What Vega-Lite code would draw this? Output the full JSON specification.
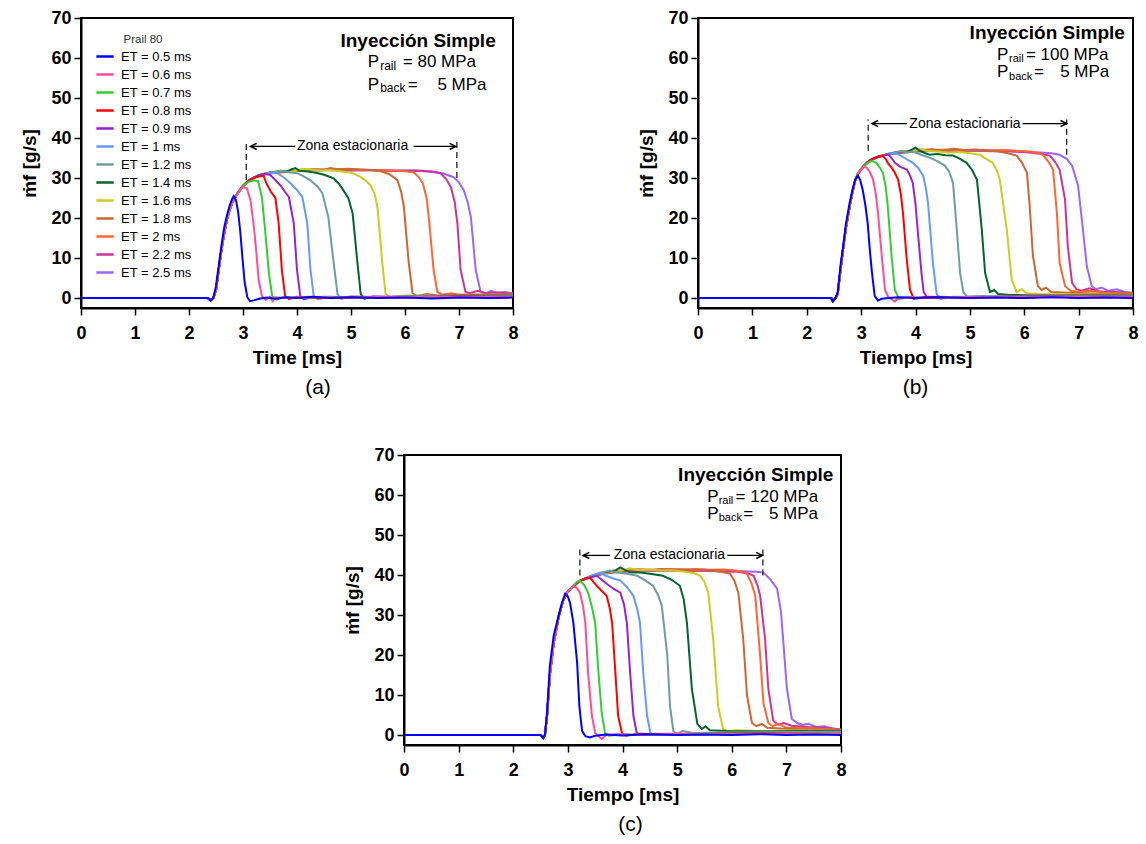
{
"$schema": "https://vega.github.io/schema/vega-lite/v6.json",
"background": "white",
"padding": {"left": 19, "top": 8, "right": 5, "bottom": 5},
"config": {
 "font": "Liberation Sans",
 "view": {"stroke": "black", "strokeWidth": 2},
 "axis": {"domainColor": "black", "domainWidth": 2, "tickColor": "black", "tickWidth": 1.5, "labelFont": "Liberation Sans", "labelFontSize": 18, "labelFontWeight": "bold", "labelColor": "black", "titleFont": "Liberation Sans", "titleFontSize": 19, "titleFontWeight": "bold", "titleColor": "black", "grid": false},
 "axisX": {"labelPadding": 9, "titlePadding": 6},
 "axisY": {"labelPadding": 3, "titlePadding": 11},
 "title": {"font": "Liberation Sans", "fontSize": 21, "fontWeight": "normal", "color": "black"},
 "text": {"font": "Liberation Sans", "color": "black"}
},
"datasets": {
"a": [
{"e":2.5,"t":0,"v":0},{"e":2.5,"t":2.35,"v":0},{"e":2.5,"t":2.4,"v":-0.6},{"e":2.5,"t":2.45,"v":0},{"e":2.5,"t":2.5,"v":2},{"e":2.5,"t":2.55,"v":7},{"e":2.5,"t":2.6,"v":12},{"e":2.5,"t":2.65,"v":16},{"e":2.5,"t":2.7,"v":19.5},{"e":2.5,"t":2.75,"v":22},{"e":2.5,"t":2.8,"v":23.8},{"e":2.5,"t":2.9,"v":26.2},{"e":2.5,"t":3.0,"v":28},{"e":2.5,"t":3.1,"v":29.2},{"e":2.5,"t":3.2,"v":30},{"e":2.5,"t":3.3,"v":30.6},{"e":2.5,"t":3.5,"v":31.2},{"e":2.5,"t":3.7,"v":31.4},{"e":2.5,"t":3.9,"v":31.6},{"e":2.5,"t":4.1,"v":31.8},{"e":2.5,"t":4.4,"v":31.9},{"e":2.5,"t":4.7,"v":32},{"e":2.5,"t":5.0,"v":31.8},{"e":2.5,"t":5.3,"v":32},{"e":2.5,"t":5.6,"v":31.9},{"e":2.5,"t":5.9,"v":31.8},{"e":2.5,"t":6.2,"v":31.9},{"e":2.5,"t":6.5,"v":31.5},{"e":2.5,"t":6.7,"v":31.2},{"e":2.5,"t":6.9,"v":30.2},{"e":2.5,"t":7.0,"v":28.9},{"e":2.5,"t":7.09,"v":26.9},{"e":2.5,"t":7.16,"v":24},{"e":2.5,"t":7.22,"v":20.2},{"e":2.5,"t":7.31,"v":7},{"e":2.5,"t":7.4,"v":1.5},{"e":2.5,"t":7.5,"v":1.2},{"e":2.5,"t":7.6,"v":1.8},{"e":2.5,"t":7.7,"v":1.3},{"e":2.5,"t":7.85,"v":1.5},{"e":2.5,"t":8,"v":1.2},
{"e":2.2,"t":0,"v":0},{"e":2.2,"t":2.35,"v":0},{"e":2.2,"t":2.4,"v":-0.6},{"e":2.2,"t":2.45,"v":0},{"e":2.2,"t":2.5,"v":2},{"e":2.2,"t":2.55,"v":7},{"e":2.2,"t":2.6,"v":12},{"e":2.2,"t":2.65,"v":16},{"e":2.2,"t":2.7,"v":19.5},{"e":2.2,"t":2.75,"v":22},{"e":2.2,"t":2.8,"v":23.8},{"e":2.2,"t":2.9,"v":26.2},{"e":2.2,"t":3.0,"v":28},{"e":2.2,"t":3.1,"v":29.2},{"e":2.2,"t":3.2,"v":30},{"e":2.2,"t":3.3,"v":30.6},{"e":2.2,"t":3.5,"v":31.3},{"e":2.2,"t":3.7,"v":31.5},{"e":2.2,"t":3.9,"v":31.7},{"e":2.2,"t":4.1,"v":31.9},{"e":2.2,"t":4.35,"v":32},{"e":2.2,"t":4.6,"v":32.1},{"e":2.2,"t":4.85,"v":31.9},{"e":2.2,"t":5.1,"v":32.1},{"e":2.2,"t":5.4,"v":32},{"e":2.2,"t":5.7,"v":31.8},{"e":2.2,"t":6.0,"v":31.9},{"e":2.2,"t":6.3,"v":31.8},{"e":2.2,"t":6.5,"v":31.6},{"e":2.2,"t":6.66,"v":31.2},{"e":2.2,"t":6.76,"v":29.8},{"e":2.2,"t":6.85,"v":27.7},{"e":2.2,"t":6.92,"v":24},{"e":2.2,"t":6.97,"v":18.7},{"e":2.2,"t":7.03,"v":7},{"e":2.2,"t":7.12,"v":1.5},{"e":2.2,"t":7.2,"v":1.2},{"e":2.2,"t":7.35,"v":1.8},{"e":2.2,"t":7.5,"v":1.2},{"e":2.2,"t":7.7,"v":1.4},{"e":2.2,"t":8,"v":1},
{"e":2,"t":0,"v":0},{"e":2,"t":2.35,"v":0},{"e":2,"t":2.4,"v":-0.6},{"e":2,"t":2.45,"v":0},{"e":2,"t":2.5,"v":2},{"e":2,"t":2.55,"v":7},{"e":2,"t":2.6,"v":12},{"e":2,"t":2.65,"v":16},{"e":2,"t":2.7,"v":19.5},{"e":2,"t":2.75,"v":22},{"e":2,"t":2.8,"v":23.8},{"e":2,"t":2.9,"v":26.2},{"e":2,"t":3.0,"v":28},{"e":2,"t":3.1,"v":29.3},{"e":2,"t":3.2,"v":30.1},{"e":2,"t":3.3,"v":30.7},{"e":2,"t":3.5,"v":31.3},{"e":2,"t":3.7,"v":31.5},{"e":2,"t":3.9,"v":31.8},{"e":2,"t":4.1,"v":31.9},{"e":2,"t":4.3,"v":32.1},{"e":2,"t":4.55,"v":32},{"e":2,"t":4.8,"v":32.2},{"e":2,"t":5.0,"v":32.1},{"e":2,"t":5.2,"v":31.9},{"e":2,"t":5.45,"v":32},{"e":2,"t":5.7,"v":31.9},{"e":2,"t":5.9,"v":31.8},{"e":2,"t":6.05,"v":31.6},{"e":2,"t":6.16,"v":31.4},{"e":2,"t":6.25,"v":30.3},{"e":2,"t":6.33,"v":28.7},{"e":2,"t":6.4,"v":25},{"e":2,"t":6.44,"v":20.2},{"e":2,"t":6.53,"v":7},{"e":2,"t":6.6,"v":1.5},{"e":2,"t":6.7,"v":0.8},{"e":2,"t":6.85,"v":1.2},{"e":2,"t":7.0,"v":0.8},{"e":2,"t":7.4,"v":0.9},{"e":2,"t":8,"v":0.8},
{"e":1.8,"t":0,"v":0},{"e":1.8,"t":2.35,"v":0},{"e":1.8,"t":2.4,"v":-0.6},{"e":1.8,"t":2.45,"v":0},{"e":1.8,"t":2.5,"v":2},{"e":1.8,"t":2.55,"v":7},{"e":1.8,"t":2.6,"v":12},{"e":1.8,"t":2.65,"v":16},{"e":1.8,"t":2.7,"v":19.5},{"e":1.8,"t":2.75,"v":22},{"e":1.8,"t":2.8,"v":23.8},{"e":1.8,"t":2.9,"v":26.2},{"e":1.8,"t":3.0,"v":28},{"e":1.8,"t":3.1,"v":29.3},{"e":1.8,"t":3.2,"v":30.1},{"e":1.8,"t":3.3,"v":30.7},{"e":1.8,"t":3.5,"v":31.4},{"e":1.8,"t":3.7,"v":31.7},{"e":1.8,"t":3.9,"v":31.8},{"e":1.8,"t":4.1,"v":32},{"e":1.8,"t":4.3,"v":32.2},{"e":1.8,"t":4.5,"v":32.1},{"e":1.8,"t":4.62,"v":32.5},{"e":1.8,"t":4.75,"v":32.2},{"e":1.8,"t":4.95,"v":32.3},{"e":1.8,"t":5.15,"v":32.1},{"e":1.8,"t":5.35,"v":32},{"e":1.8,"t":5.55,"v":31.7},{"e":1.8,"t":5.7,"v":31},{"e":1.8,"t":5.8,"v":30.1},{"e":1.8,"t":5.86,"v":29.4},{"e":1.8,"t":5.93,"v":26.5},{"e":1.8,"t":5.98,"v":22.7},{"e":1.8,"t":6.07,"v":8.7},{"e":1.8,"t":6.14,"v":1.2},{"e":1.8,"t":6.22,"v":0.5},{"e":1.8,"t":6.4,"v":1},{"e":1.8,"t":6.6,"v":0.6},{"e":1.8,"t":7,"v":0.8},{"e":1.8,"t":7.5,"v":0.7},{"e":1.8,"t":8,"v":0.9},
{"e":1.6,"t":0,"v":0},{"e":1.6,"t":2.35,"v":0},{"e":1.6,"t":2.4,"v":-0.6},{"e":1.6,"t":2.45,"v":0},{"e":1.6,"t":2.5,"v":2},{"e":1.6,"t":2.55,"v":7},{"e":1.6,"t":2.6,"v":12},{"e":1.6,"t":2.65,"v":16},{"e":1.6,"t":2.7,"v":19.5},{"e":1.6,"t":2.75,"v":22},{"e":1.6,"t":2.8,"v":23.8},{"e":1.6,"t":2.9,"v":26.2},{"e":1.6,"t":3.0,"v":28},{"e":1.6,"t":3.1,"v":29.3},{"e":1.6,"t":3.2,"v":30.1},{"e":1.6,"t":3.3,"v":30.7},{"e":1.6,"t":3.5,"v":31.3},{"e":1.6,"t":3.6,"v":31.6},{"e":1.6,"t":3.75,"v":31.8},{"e":1.6,"t":3.9,"v":31.5},{"e":1.6,"t":4.0,"v":31.9},{"e":1.6,"t":4.1,"v":32.3},{"e":1.6,"t":4.25,"v":32.1},{"e":1.6,"t":4.4,"v":31.9},{"e":1.6,"t":4.6,"v":32},{"e":1.6,"t":4.8,"v":31.7},{"e":1.6,"t":5.0,"v":31.3},{"e":1.6,"t":5.1,"v":30.8},{"e":1.6,"t":5.18,"v":30.2},{"e":1.6,"t":5.28,"v":29.3},{"e":1.6,"t":5.36,"v":28.2},{"e":1.6,"t":5.44,"v":26},{"e":1.6,"t":5.49,"v":22.7},{"e":1.6,"t":5.58,"v":8.7},{"e":1.6,"t":5.64,"v":1},{"e":1.6,"t":5.72,"v":0.2},{"e":1.6,"t":6.0,"v":0.6},{"e":1.6,"t":6.6,"v":0.5},{"e":1.6,"t":7.4,"v":0.7},{"e":1.6,"t":8,"v":0.7},
{"e":1.4,"t":0,"v":0},{"e":1.4,"t":2.35,"v":0},{"e":1.4,"t":2.4,"v":-0.6},{"e":1.4,"t":2.45,"v":0},{"e":1.4,"t":2.5,"v":2},{"e":1.4,"t":2.55,"v":7},{"e":1.4,"t":2.6,"v":12},{"e":1.4,"t":2.65,"v":16},{"e":1.4,"t":2.7,"v":19.5},{"e":1.4,"t":2.75,"v":22},{"e":1.4,"t":2.8,"v":23.8},{"e":1.4,"t":2.9,"v":26.2},{"e":1.4,"t":3.0,"v":28},{"e":1.4,"t":3.1,"v":29.3},{"e":1.4,"t":3.2,"v":30.1},{"e":1.4,"t":3.3,"v":30.7},{"e":1.4,"t":3.5,"v":31.4},{"e":1.4,"t":3.6,"v":31.5},{"e":1.4,"t":3.7,"v":31.8},{"e":1.4,"t":3.8,"v":31.6},{"e":1.4,"t":3.9,"v":32.2},{"e":1.4,"t":3.97,"v":32.5},{"e":1.4,"t":4.05,"v":31.8},{"e":1.4,"t":4.2,"v":31.6},{"e":1.4,"t":4.35,"v":31.3},{"e":1.4,"t":4.5,"v":30.8},{"e":1.4,"t":4.6,"v":30.3},{"e":1.4,"t":4.68,"v":29.9},{"e":1.4,"t":4.78,"v":28.5},{"e":1.4,"t":4.86,"v":26.9},{"e":1.4,"t":4.95,"v":25},{"e":1.4,"t":5.03,"v":21.2},{"e":1.4,"t":5.12,"v":8.7},{"e":1.4,"t":5.18,"v":1},{"e":1.4,"t":5.25,"v":-0.2},{"e":1.4,"t":5.4,"v":0.4},{"e":1.4,"t":5.8,"v":0.2},{"e":1.4,"t":6.5,"v":0.5},{"e":1.4,"t":7.3,"v":0.6},{"e":1.4,"t":8,"v":0.6},
{"e":1.2,"t":0,"v":0},{"e":1.2,"t":2.35,"v":0},{"e":1.2,"t":2.4,"v":-0.6},{"e":1.2,"t":2.45,"v":0},{"e":1.2,"t":2.5,"v":2},{"e":1.2,"t":2.55,"v":7},{"e":1.2,"t":2.6,"v":12},{"e":1.2,"t":2.65,"v":16},{"e":1.2,"t":2.7,"v":19.5},{"e":1.2,"t":2.75,"v":22},{"e":1.2,"t":2.8,"v":23.8},{"e":1.2,"t":2.9,"v":26.2},{"e":1.2,"t":3.0,"v":28},{"e":1.2,"t":3.1,"v":29.3},{"e":1.2,"t":3.2,"v":30.1},{"e":1.2,"t":3.3,"v":30.7},{"e":1.2,"t":3.4,"v":31.1},{"e":1.2,"t":3.5,"v":31.3},{"e":1.2,"t":3.6,"v":31.5},{"e":1.2,"t":3.7,"v":31.8},{"e":1.2,"t":3.88,"v":31.4},{"e":1.2,"t":4.0,"v":31.2},{"e":1.2,"t":4.1,"v":30.6},{"e":1.2,"t":4.25,"v":29.4},{"e":1.2,"t":4.37,"v":28},{"e":1.2,"t":4.47,"v":26.2},{"e":1.2,"t":4.58,"v":20.2},{"e":1.2,"t":4.68,"v":8.7},{"e":1.2,"t":4.75,"v":1},{"e":1.2,"t":4.82,"v":-0.2},{"e":1.2,"t":5.0,"v":0.4},{"e":1.2,"t":5.5,"v":0.2},{"e":1.2,"t":6.3,"v":0.5},{"e":1.2,"t":7.2,"v":0.5},{"e":1.2,"t":8,"v":0.6},
{"e":1,"t":0,"v":0},{"e":1,"t":2.35,"v":0},{"e":1,"t":2.4,"v":-0.6},{"e":1,"t":2.45,"v":0},{"e":1,"t":2.5,"v":2},{"e":1,"t":2.55,"v":7},{"e":1,"t":2.6,"v":12},{"e":1,"t":2.65,"v":16},{"e":1,"t":2.7,"v":19.5},{"e":1,"t":2.75,"v":22},{"e":1,"t":2.8,"v":23.8},{"e":1,"t":2.9,"v":26.2},{"e":1,"t":3.0,"v":28},{"e":1,"t":3.1,"v":29.3},{"e":1,"t":3.2,"v":30.1},{"e":1,"t":3.3,"v":30.7},{"e":1,"t":3.4,"v":31},{"e":1,"t":3.5,"v":31.2},{"e":1,"t":3.63,"v":31.3},{"e":1,"t":3.75,"v":30.2},{"e":1,"t":3.88,"v":28.7},{"e":1,"t":4.0,"v":27},{"e":1,"t":4.1,"v":25.2},{"e":1,"t":4.19,"v":18.7},{"e":1,"t":4.25,"v":7},{"e":1,"t":4.31,"v":0.5},{"e":1,"t":4.38,"v":-0.3},{"e":1,"t":4.6,"v":0.3},{"e":1,"t":5.2,"v":0.1},{"e":1,"t":6,"v":0.3},{"e":1,"t":7,"v":0.4},{"e":1,"t":8,"v":0.5},
{"e":0.9,"t":0,"v":0},{"e":0.9,"t":2.35,"v":0},{"e":0.9,"t":2.4,"v":-0.6},{"e":0.9,"t":2.45,"v":0},{"e":0.9,"t":2.5,"v":2},{"e":0.9,"t":2.55,"v":7},{"e":0.9,"t":2.6,"v":12},{"e":0.9,"t":2.65,"v":16},{"e":0.9,"t":2.7,"v":19.5},{"e":0.9,"t":2.75,"v":22},{"e":0.9,"t":2.8,"v":23.8},{"e":0.9,"t":2.9,"v":26.2},{"e":0.9,"t":3.0,"v":28},{"e":0.9,"t":3.1,"v":29.3},{"e":0.9,"t":3.2,"v":30.1},{"e":0.9,"t":3.3,"v":30.7},{"e":0.9,"t":3.4,"v":31},{"e":0.9,"t":3.5,"v":30.8},{"e":0.9,"t":3.6,"v":29.5},{"e":0.9,"t":3.69,"v":28.2},{"e":0.9,"t":3.78,"v":26.5},{"e":0.9,"t":3.85,"v":25.2},{"e":0.9,"t":3.94,"v":18.7},{"e":0.9,"t":4.0,"v":7},{"e":0.9,"t":4.06,"v":0.5},{"e":0.9,"t":4.12,"v":-0.3},{"e":0.9,"t":4.3,"v":0.2},{"e":0.9,"t":4.8,"v":0},{"e":0.9,"t":5.5,"v":0.3},{"e":0.9,"t":6.5,"v":0.3},{"e":0.9,"t":7.5,"v":0.4},{"e":0.9,"t":8,"v":0.5},
{"e":0.8,"t":0,"v":0},{"e":0.8,"t":2.35,"v":0},{"e":0.8,"t":2.4,"v":-0.6},{"e":0.8,"t":2.45,"v":0},{"e":0.8,"t":2.5,"v":2},{"e":0.8,"t":2.55,"v":7},{"e":0.8,"t":2.6,"v":12},{"e":0.8,"t":2.65,"v":16},{"e":0.8,"t":2.7,"v":19.5},{"e":0.8,"t":2.75,"v":22},{"e":0.8,"t":2.8,"v":23.8},{"e":0.8,"t":2.9,"v":26.2},{"e":0.8,"t":3.0,"v":28},{"e":0.8,"t":3.1,"v":29.3},{"e":0.8,"t":3.2,"v":30},{"e":0.8,"t":3.3,"v":30.4},{"e":0.8,"t":3.38,"v":30.6},{"e":0.8,"t":3.44,"v":28.5},{"e":0.8,"t":3.52,"v":26.5},{"e":0.8,"t":3.6,"v":25},{"e":0.8,"t":3.66,"v":18.7},{"e":0.8,"t":3.72,"v":7},{"e":0.8,"t":3.78,"v":0.5},{"e":0.8,"t":3.85,"v":-0.3},{"e":0.8,"t":4.0,"v":0.3},{"e":0.8,"t":4.4,"v":0},{"e":0.8,"t":5,"v":0.3},{"e":0.8,"t":6,"v":0.2},{"e":0.8,"t":7,"v":0.4},{"e":0.8,"t":8,"v":0.4},
{"e":0.7,"t":0,"v":0},{"e":0.7,"t":2.35,"v":0},{"e":0.7,"t":2.4,"v":-0.6},{"e":0.7,"t":2.45,"v":0},{"e":0.7,"t":2.5,"v":2},{"e":0.7,"t":2.55,"v":7},{"e":0.7,"t":2.6,"v":12},{"e":0.7,"t":2.65,"v":16},{"e":0.7,"t":2.7,"v":19.5},{"e":0.7,"t":2.75,"v":22},{"e":0.7,"t":2.8,"v":23.8},{"e":0.7,"t":2.9,"v":26.2},{"e":0.7,"t":3.0,"v":28},{"e":0.7,"t":3.1,"v":29},{"e":0.7,"t":3.2,"v":29.4},{"e":0.7,"t":3.28,"v":29.2},{"e":0.7,"t":3.35,"v":25.2},{"e":0.7,"t":3.41,"v":17},{"e":0.7,"t":3.48,"v":6.2},{"e":0.7,"t":3.54,"v":0.5},{"e":0.7,"t":3.62,"v":-0.4},{"e":0.7,"t":3.75,"v":0.2},{"e":0.7,"t":4.0,"v":0},{"e":0.7,"t":4.5,"v":0.3},{"e":0.7,"t":5.2,"v":0.1},{"e":0.7,"t":6,"v":0.3},{"e":0.7,"t":7,"v":0.2},{"e":0.7,"t":8,"v":0.4},
{"e":0.6,"t":0,"v":0},{"e":0.6,"t":2.35,"v":0},{"e":0.6,"t":2.4,"v":-0.6},{"e":0.6,"t":2.45,"v":0},{"e":0.6,"t":2.5,"v":2},{"e":0.6,"t":2.55,"v":7},{"e":0.6,"t":2.6,"v":12},{"e":0.6,"t":2.65,"v":16},{"e":0.6,"t":2.7,"v":19.5},{"e":0.6,"t":2.75,"v":22},{"e":0.6,"t":2.8,"v":23.8},{"e":0.6,"t":2.9,"v":26.2},{"e":0.6,"t":3.0,"v":27.7},{"e":0.6,"t":3.07,"v":27.5},{"e":0.6,"t":3.14,"v":24.4},{"e":0.6,"t":3.2,"v":18},{"e":0.6,"t":3.25,"v":11},{"e":0.6,"t":3.29,"v":4.5},{"e":0.6,"t":3.35,"v":0.5},{"e":0.6,"t":3.42,"v":-0.5},{"e":0.6,"t":3.5,"v":0.3},{"e":0.6,"t":3.55,"v":-0.8},{"e":0.6,"t":3.6,"v":0.2},{"e":0.6,"t":3.8,"v":0},{"e":0.6,"t":4.2,"v":0.3},{"e":0.6,"t":4.8,"v":0.1},{"e":0.6,"t":5.5,"v":0.3},{"e":0.6,"t":6.5,"v":0.2},{"e":0.6,"t":7.5,"v":0.3},{"e":0.6,"t":8,"v":0.4},
{"e":0.5,"t":0,"v":0},{"e":0.5,"t":2.35,"v":0},{"e":0.5,"t":2.4,"v":-0.6},{"e":0.5,"t":2.45,"v":0},{"e":0.5,"t":2.5,"v":3},{"e":0.5,"t":2.55,"v":8},{"e":0.5,"t":2.6,"v":13},{"e":0.5,"t":2.65,"v":17.5},{"e":0.5,"t":2.7,"v":20.5},{"e":0.5,"t":2.75,"v":23},{"e":0.5,"t":2.8,"v":24.8},{"e":0.5,"t":2.83,"v":25.5},{"e":0.5,"t":2.87,"v":24.5},{"e":0.5,"t":2.91,"v":21.5},{"e":0.5,"t":2.95,"v":16.5},{"e":0.5,"t":2.99,"v":10},{"e":0.5,"t":3.03,"v":4},{"e":0.5,"t":3.08,"v":0.2},{"e":0.5,"t":3.13,"v":-0.8},{"e":0.5,"t":3.2,"v":-0.6},{"e":0.5,"t":3.3,"v":-0.2},{"e":0.5,"t":3.45,"v":0.1},{"e":0.5,"t":3.6,"v":-0.2},{"e":0.5,"t":3.8,"v":0.2},{"e":0.5,"t":4.0,"v":0},{"e":0.5,"t":4.3,"v":0.3},{"e":0.5,"t":4.6,"v":0},{"e":0.5,"t":5.0,"v":0.2},{"e":0.5,"t":5.5,"v":0},{"e":0.5,"t":6.0,"v":0.1},{"e":0.5,"t":6.5,"v":-0.1},{"e":0.5,"t":7.0,"v":0.1},{"e":0.5,"t":7.5,"v":0},{"e":0.5,"t":8,"v":0.1}
],
"b": [
{"e":2.5,"t":0,"v":0},{"e":2.5,"t":2.45,"v":0},{"e":2.5,"t":2.48,"v":-0.8},{"e":2.5,"t":2.53,"v":0},{"e":2.5,"t":2.57,"v":1},{"e":2.5,"t":2.62,"v":7},{"e":2.5,"t":2.67,"v":12.5},{"e":2.5,"t":2.72,"v":17.5},{"e":2.5,"t":2.79,"v":23},{"e":2.5,"t":2.84,"v":26.5},{"e":2.5,"t":2.89,"v":29.3},{"e":2.5,"t":2.94,"v":31},{"e":2.5,"t":3.0,"v":32.2},{"e":2.5,"t":3.05,"v":33},{"e":2.5,"t":3.12,"v":33.9},{"e":2.5,"t":3.2,"v":34.6},{"e":2.5,"t":3.3,"v":35.2},{"e":2.5,"t":3.5,"v":35.9},{"e":2.5,"t":3.7,"v":36.2},{"e":2.5,"t":3.9,"v":36.5},{"e":2.5,"t":4.2,"v":36.7},{"e":2.5,"t":4.5,"v":36.8},{"e":2.5,"t":4.8,"v":36.7},{"e":2.5,"t":5.1,"v":36.8},{"e":2.5,"t":5.4,"v":36.7},{"e":2.5,"t":5.7,"v":36.6},{"e":2.5,"t":6.0,"v":36.5},{"e":2.5,"t":6.3,"v":36.4},{"e":2.5,"t":6.5,"v":36.2},{"e":2.5,"t":6.65,"v":35.8},{"e":2.5,"t":6.78,"v":34.8},{"e":2.5,"t":6.88,"v":33.1},{"e":2.5,"t":6.99,"v":28.1},{"e":2.5,"t":7.08,"v":17},{"e":2.5,"t":7.15,"v":8},{"e":2.5,"t":7.24,"v":3},{"e":2.5,"t":7.32,"v":2.2},{"e":2.5,"t":7.42,"v":2.6},{"e":2.5,"t":7.55,"v":1.8},{"e":2.5,"t":7.7,"v":2.2},{"e":2.5,"t":7.85,"v":1.5},{"e":2.5,"t":8,"v":1.3},
{"e":2.2,"t":0,"v":0},{"e":2.2,"t":2.45,"v":0},{"e":2.2,"t":2.48,"v":-0.8},{"e":2.2,"t":2.53,"v":0},{"e":2.2,"t":2.57,"v":1},{"e":2.2,"t":2.62,"v":7},{"e":2.2,"t":2.67,"v":12.5},{"e":2.2,"t":2.72,"v":17.5},{"e":2.2,"t":2.79,"v":23},{"e":2.2,"t":2.84,"v":26.5},{"e":2.2,"t":2.89,"v":29.3},{"e":2.2,"t":2.94,"v":31},{"e":2.2,"t":3.0,"v":32.2},{"e":2.2,"t":3.05,"v":33},{"e":2.2,"t":3.12,"v":33.9},{"e":2.2,"t":3.2,"v":34.6},{"e":2.2,"t":3.3,"v":35.2},{"e":2.2,"t":3.5,"v":36},{"e":2.2,"t":3.7,"v":36.3},{"e":2.2,"t":3.9,"v":36.6},{"e":2.2,"t":4.15,"v":36.8},{"e":2.2,"t":4.4,"v":37},{"e":2.2,"t":4.65,"v":36.9},{"e":2.2,"t":4.9,"v":37},{"e":2.2,"t":5.2,"v":36.9},{"e":2.2,"t":5.5,"v":36.8},{"e":2.2,"t":5.8,"v":36.7},{"e":2.2,"t":6.1,"v":36.4},{"e":2.2,"t":6.3,"v":36},{"e":2.2,"t":6.47,"v":35.6},{"e":2.2,"t":6.57,"v":34},{"e":2.2,"t":6.65,"v":32.1},{"e":2.2,"t":6.75,"v":24.6},{"e":2.2,"t":6.8,"v":13},{"e":2.2,"t":6.88,"v":3.8},{"e":2.2,"t":6.96,"v":2.2},{"e":2.2,"t":7.05,"v":1.8},{"e":2.2,"t":7.2,"v":2.4},{"e":2.2,"t":7.4,"v":1.6},{"e":2.2,"t":7.7,"v":1.5},{"e":2.2,"t":8,"v":1.2},
{"e":2,"t":0,"v":0},{"e":2,"t":2.45,"v":0},{"e":2,"t":2.48,"v":-0.8},{"e":2,"t":2.53,"v":0},{"e":2,"t":2.57,"v":1},{"e":2,"t":2.62,"v":7},{"e":2,"t":2.67,"v":12.5},{"e":2,"t":2.72,"v":17.5},{"e":2,"t":2.79,"v":23},{"e":2,"t":2.84,"v":26.5},{"e":2,"t":2.89,"v":29.3},{"e":2,"t":2.94,"v":31},{"e":2,"t":3.0,"v":32.2},{"e":2,"t":3.05,"v":33},{"e":2,"t":3.12,"v":33.9},{"e":2,"t":3.2,"v":34.6},{"e":2,"t":3.3,"v":35.2},{"e":2,"t":3.5,"v":36},{"e":2,"t":3.7,"v":36.4},{"e":2,"t":3.9,"v":36.7},{"e":2,"t":4.1,"v":36.9},{"e":2,"t":4.35,"v":37},{"e":2,"t":4.6,"v":37.1},{"e":2,"t":4.85,"v":36.9},{"e":2,"t":5.1,"v":37},{"e":2,"t":5.35,"v":36.9},{"e":2,"t":5.6,"v":37},{"e":2,"t":5.85,"v":36.8},{"e":2,"t":6.1,"v":36.6},{"e":2,"t":6.25,"v":36.3},{"e":2,"t":6.34,"v":35.8},{"e":2,"t":6.45,"v":34},{"e":2,"t":6.53,"v":32.1},{"e":2,"t":6.6,"v":21.3},{"e":2,"t":6.65,"v":8.8},{"e":2,"t":6.75,"v":3},{"e":2,"t":6.85,"v":1.8},{"e":2,"t":7.0,"v":1.5},{"e":2,"t":7.2,"v":1.8},{"e":2,"t":7.5,"v":1.3},{"e":2,"t":8,"v":1.1},
{"e":1.8,"t":0,"v":0},{"e":1.8,"t":2.45,"v":0},{"e":1.8,"t":2.48,"v":-0.8},{"e":1.8,"t":2.53,"v":0},{"e":1.8,"t":2.57,"v":1},{"e":1.8,"t":2.62,"v":7},{"e":1.8,"t":2.67,"v":12.5},{"e":1.8,"t":2.72,"v":17.5},{"e":1.8,"t":2.79,"v":23},{"e":1.8,"t":2.84,"v":26.5},{"e":1.8,"t":2.89,"v":29.3},{"e":1.8,"t":2.94,"v":31},{"e":1.8,"t":3.0,"v":32.2},{"e":1.8,"t":3.05,"v":33},{"e":1.8,"t":3.12,"v":33.9},{"e":1.8,"t":3.2,"v":34.6},{"e":1.8,"t":3.3,"v":35.2},{"e":1.8,"t":3.5,"v":36},{"e":1.8,"t":3.7,"v":36.5},{"e":1.8,"t":3.9,"v":36.8},{"e":1.8,"t":4.1,"v":37},{"e":1.8,"t":4.3,"v":37.2},{"e":1.8,"t":4.5,"v":36.9},{"e":1.8,"t":4.7,"v":37.3},{"e":1.8,"t":4.9,"v":37},{"e":1.8,"t":5.1,"v":37.1},{"e":1.8,"t":5.3,"v":36.9},{"e":1.8,"t":5.5,"v":36.7},{"e":1.8,"t":5.7,"v":36.2},{"e":1.8,"t":5.86,"v":35.6},{"e":1.8,"t":5.96,"v":33.8},{"e":1.8,"t":6.05,"v":31.3},{"e":1.8,"t":6.1,"v":23},{"e":1.8,"t":6.16,"v":10.5},{"e":1.8,"t":6.25,"v":3},{"e":1.8,"t":6.32,"v":2},{"e":1.8,"t":6.4,"v":2.6},{"e":1.8,"t":6.5,"v":1.5},{"e":1.8,"t":6.8,"v":1.3},{"e":1.8,"t":7.3,"v":1.1},{"e":1.8,"t":8,"v":1},
{"e":1.6,"t":0,"v":0},{"e":1.6,"t":2.45,"v":0},{"e":1.6,"t":2.48,"v":-0.8},{"e":1.6,"t":2.53,"v":0},{"e":1.6,"t":2.57,"v":1},{"e":1.6,"t":2.62,"v":7},{"e":1.6,"t":2.67,"v":12.5},{"e":1.6,"t":2.72,"v":17.5},{"e":1.6,"t":2.79,"v":23},{"e":1.6,"t":2.84,"v":26.5},{"e":1.6,"t":2.89,"v":29.3},{"e":1.6,"t":2.94,"v":31},{"e":1.6,"t":3.0,"v":32.2},{"e":1.6,"t":3.05,"v":33},{"e":1.6,"t":3.12,"v":33.9},{"e":1.6,"t":3.2,"v":34.6},{"e":1.6,"t":3.3,"v":35.2},{"e":1.6,"t":3.5,"v":36},{"e":1.6,"t":3.6,"v":36.3},{"e":1.6,"t":3.75,"v":36.6},{"e":1.6,"t":3.9,"v":36.5},{"e":1.6,"t":4.0,"v":36.9},{"e":1.6,"t":4.1,"v":37.3},{"e":1.6,"t":4.2,"v":36.8},{"e":1.6,"t":4.4,"v":36.6},{"e":1.6,"t":4.6,"v":36.4},{"e":1.6,"t":4.8,"v":36.5},{"e":1.6,"t":5.0,"v":36.2},{"e":1.6,"t":5.18,"v":35.8},{"e":1.6,"t":5.3,"v":34.8},{"e":1.6,"t":5.42,"v":33.8},{"e":1.6,"t":5.5,"v":31.8},{"e":1.6,"t":5.55,"v":29.6},{"e":1.6,"t":5.68,"v":17},{"e":1.6,"t":5.77,"v":4.5},{"e":1.6,"t":5.86,"v":1.5},{"e":1.6,"t":5.95,"v":2.2},{"e":1.6,"t":6.05,"v":1.2},{"e":1.6,"t":6.3,"v":1},{"e":1.6,"t":7,"v":0.9},{"e":1.6,"t":8,"v":0.8},
{"e":1.4,"t":0,"v":0},{"e":1.4,"t":2.45,"v":0},{"e":1.4,"t":2.48,"v":-0.8},{"e":1.4,"t":2.53,"v":0},{"e":1.4,"t":2.57,"v":1},{"e":1.4,"t":2.62,"v":7},{"e":1.4,"t":2.67,"v":12.5},{"e":1.4,"t":2.72,"v":17.5},{"e":1.4,"t":2.79,"v":23},{"e":1.4,"t":2.84,"v":26.5},{"e":1.4,"t":2.89,"v":29.3},{"e":1.4,"t":2.94,"v":31},{"e":1.4,"t":3.0,"v":32.2},{"e":1.4,"t":3.05,"v":33},{"e":1.4,"t":3.12,"v":33.9},{"e":1.4,"t":3.2,"v":34.6},{"e":1.4,"t":3.3,"v":35.2},{"e":1.4,"t":3.5,"v":36},{"e":1.4,"t":3.6,"v":36.3},{"e":1.4,"t":3.75,"v":36.7},{"e":1.4,"t":3.85,"v":36.5},{"e":1.4,"t":3.95,"v":37.2},{"e":1.4,"t":4.0,"v":37.6},{"e":1.4,"t":4.08,"v":36.8},{"e":1.4,"t":4.18,"v":36.2},{"e":1.4,"t":4.26,"v":35.8},{"e":1.4,"t":4.4,"v":36},{"e":1.4,"t":4.55,"v":35.7},{"e":1.4,"t":4.69,"v":35.6},{"e":1.4,"t":4.82,"v":34.8},{"e":1.4,"t":4.94,"v":33.8},{"e":1.4,"t":5.04,"v":32},{"e":1.4,"t":5.13,"v":29.6},{"e":1.4,"t":5.22,"v":17},{"e":1.4,"t":5.28,"v":6.3},{"e":1.4,"t":5.37,"v":1.5},{"e":1.4,"t":5.45,"v":2},{"e":1.4,"t":5.52,"v":1},{"e":1.4,"t":5.7,"v":0.8},{"e":1.4,"t":6.2,"v":0.6},{"e":1.4,"t":7,"v":0.7},{"e":1.4,"t":8,"v":0.8},
{"e":1.2,"t":0,"v":0},{"e":1.2,"t":2.45,"v":0},{"e":1.2,"t":2.48,"v":-0.8},{"e":1.2,"t":2.53,"v":0},{"e":1.2,"t":2.57,"v":1},{"e":1.2,"t":2.62,"v":7},{"e":1.2,"t":2.67,"v":12.5},{"e":1.2,"t":2.72,"v":17.5},{"e":1.2,"t":2.79,"v":23},{"e":1.2,"t":2.84,"v":26.5},{"e":1.2,"t":2.89,"v":29.3},{"e":1.2,"t":2.94,"v":31},{"e":1.2,"t":3.0,"v":32.2},{"e":1.2,"t":3.05,"v":33},{"e":1.2,"t":3.12,"v":33.9},{"e":1.2,"t":3.2,"v":34.6},{"e":1.2,"t":3.3,"v":35.2},{"e":1.2,"t":3.4,"v":35.6},{"e":1.2,"t":3.5,"v":36},{"e":1.2,"t":3.6,"v":36.3},{"e":1.2,"t":3.75,"v":36.8},{"e":1.2,"t":3.85,"v":36.4},{"e":1.2,"t":3.95,"v":36.6},{"e":1.2,"t":4.1,"v":35.8},{"e":1.2,"t":4.26,"v":35.1},{"e":1.2,"t":4.4,"v":34.2},{"e":1.2,"t":4.54,"v":33.1},{"e":1.2,"t":4.62,"v":31.5},{"e":1.2,"t":4.69,"v":28.8},{"e":1.2,"t":4.76,"v":17},{"e":1.2,"t":4.82,"v":6.3},{"e":1.2,"t":4.88,"v":1.5},{"e":1.2,"t":4.95,"v":0.3},{"e":1.2,"t":5.2,"v":0.5},{"e":1.2,"t":5.8,"v":0.4},{"e":1.2,"t":6.6,"v":0.6},{"e":1.2,"t":7.4,"v":0.6},{"e":1.2,"t":8,"v":0.7},
{"e":1,"t":0,"v":0},{"e":1,"t":2.45,"v":0},{"e":1,"t":2.48,"v":-0.8},{"e":1,"t":2.53,"v":0},{"e":1,"t":2.57,"v":1},{"e":1,"t":2.62,"v":7},{"e":1,"t":2.67,"v":12.5},{"e":1,"t":2.72,"v":17.5},{"e":1,"t":2.79,"v":23},{"e":1,"t":2.84,"v":26.5},{"e":1,"t":2.89,"v":29.3},{"e":1,"t":2.94,"v":31},{"e":1,"t":3.0,"v":32.2},{"e":1,"t":3.05,"v":33},{"e":1,"t":3.12,"v":33.9},{"e":1,"t":3.2,"v":34.6},{"e":1,"t":3.3,"v":35.2},{"e":1,"t":3.4,"v":35.6},{"e":1,"t":3.5,"v":36},{"e":1,"t":3.6,"v":36.3},{"e":1,"t":3.7,"v":35.8},{"e":1,"t":3.8,"v":35},{"e":1,"t":3.95,"v":33.8},{"e":1,"t":4.05,"v":32.5},{"e":1,"t":4.14,"v":30.6},{"e":1,"t":4.19,"v":27.5},{"e":1,"t":4.23,"v":23.8},{"e":1,"t":4.32,"v":8.8},{"e":1,"t":4.39,"v":1},{"e":1,"t":4.46,"v":-0.2},{"e":1,"t":4.7,"v":0.3},{"e":1,"t":5.3,"v":0.2},{"e":1,"t":6.2,"v":0.4},{"e":1,"t":7.2,"v":0.5},{"e":1,"t":8,"v":0.5},
{"e":0.9,"t":0,"v":0},{"e":0.9,"t":2.45,"v":0},{"e":0.9,"t":2.48,"v":-0.8},{"e":0.9,"t":2.53,"v":0},{"e":0.9,"t":2.57,"v":1},{"e":0.9,"t":2.62,"v":7},{"e":0.9,"t":2.67,"v":12.5},{"e":0.9,"t":2.72,"v":17.5},{"e":0.9,"t":2.79,"v":23},{"e":0.9,"t":2.84,"v":26.5},{"e":0.9,"t":2.89,"v":29.3},{"e":0.9,"t":2.94,"v":31},{"e":0.9,"t":3.0,"v":32.2},{"e":0.9,"t":3.05,"v":33},{"e":0.9,"t":3.12,"v":33.9},{"e":0.9,"t":3.2,"v":34.6},{"e":0.9,"t":3.3,"v":35.2},{"e":0.9,"t":3.4,"v":35.6},{"e":0.9,"t":3.5,"v":35.9},{"e":0.9,"t":3.56,"v":35},{"e":0.9,"t":3.62,"v":33.8},{"e":0.9,"t":3.72,"v":32.8},{"e":0.9,"t":3.84,"v":32.1},{"e":0.9,"t":3.9,"v":30.6},{"e":0.9,"t":3.95,"v":28.8},{"e":0.9,"t":4.0,"v":23.5},{"e":0.9,"t":4.04,"v":17},{"e":0.9,"t":4.11,"v":6.3},{"e":0.9,"t":4.15,"v":1.5},{"e":0.9,"t":4.22,"v":0},{"e":0.9,"t":4.4,"v":0.3},{"e":0.9,"t":5,"v":0.1},{"e":0.9,"t":6,"v":0.4},{"e":0.9,"t":7,"v":0.4},{"e":0.9,"t":8,"v":0.5},
{"e":0.8,"t":0,"v":0},{"e":0.8,"t":2.45,"v":0},{"e":0.8,"t":2.48,"v":-0.8},{"e":0.8,"t":2.53,"v":0},{"e":0.8,"t":2.57,"v":1},{"e":0.8,"t":2.62,"v":7},{"e":0.8,"t":2.67,"v":12.5},{"e":0.8,"t":2.72,"v":17.5},{"e":0.8,"t":2.79,"v":23},{"e":0.8,"t":2.84,"v":26.5},{"e":0.8,"t":2.89,"v":29.3},{"e":0.8,"t":2.94,"v":31},{"e":0.8,"t":3.0,"v":32.2},{"e":0.8,"t":3.05,"v":33},{"e":0.8,"t":3.12,"v":34},{"e":0.8,"t":3.2,"v":34.8},{"e":0.8,"t":3.3,"v":35.3},{"e":0.8,"t":3.38,"v":35.6},{"e":0.8,"t":3.45,"v":34.8},{"e":0.8,"t":3.5,"v":33.6},{"e":0.8,"t":3.56,"v":32.6},{"e":0.8,"t":3.62,"v":31.3},{"e":0.8,"t":3.68,"v":29.6},{"e":0.8,"t":3.73,"v":26},{"e":0.8,"t":3.77,"v":21.3},{"e":0.8,"t":3.84,"v":9.5},{"e":0.8,"t":3.9,"v":2},{"e":0.8,"t":3.97,"v":-0.2},{"e":0.8,"t":4.2,"v":0.3},{"e":0.8,"t":4.8,"v":0.1},{"e":0.8,"t":5.6,"v":0.3},{"e":0.8,"t":6.6,"v":0.4},{"e":0.8,"t":8,"v":0.5},
{"e":0.7,"t":0,"v":0},{"e":0.7,"t":2.45,"v":0},{"e":0.7,"t":2.48,"v":-0.8},{"e":0.7,"t":2.53,"v":0},{"e":0.7,"t":2.57,"v":1},{"e":0.7,"t":2.62,"v":7},{"e":0.7,"t":2.67,"v":12.5},{"e":0.7,"t":2.72,"v":17.5},{"e":0.7,"t":2.79,"v":23},{"e":0.7,"t":2.84,"v":26.5},{"e":0.7,"t":2.89,"v":29.3},{"e":0.7,"t":2.94,"v":31},{"e":0.7,"t":3.0,"v":32.2},{"e":0.7,"t":3.05,"v":33},{"e":0.7,"t":3.12,"v":33.8},{"e":0.7,"t":3.2,"v":34.3},{"e":0.7,"t":3.28,"v":33.8},{"e":0.7,"t":3.35,"v":32.5},{"e":0.7,"t":3.4,"v":31.3},{"e":0.7,"t":3.45,"v":28},{"e":0.7,"t":3.49,"v":23},{"e":0.7,"t":3.56,"v":10.5},{"e":0.7,"t":3.62,"v":2},{"e":0.7,"t":3.7,"v":-0.3},{"e":0.7,"t":3.85,"v":0.2},{"e":0.7,"t":4.2,"v":0},{"e":0.7,"t":5,"v":0.3},{"e":0.7,"t":6,"v":0.2},{"e":0.7,"t":7,"v":0.4},{"e":0.7,"t":8,"v":0.4},
{"e":0.6,"t":0,"v":0},{"e":0.6,"t":2.45,"v":0},{"e":0.6,"t":2.48,"v":-0.8},{"e":0.6,"t":2.53,"v":0},{"e":0.6,"t":2.57,"v":1},{"e":0.6,"t":2.62,"v":7},{"e":0.6,"t":2.67,"v":12.5},{"e":0.6,"t":2.72,"v":17.5},{"e":0.6,"t":2.79,"v":23},{"e":0.6,"t":2.84,"v":26.5},{"e":0.6,"t":2.89,"v":29.3},{"e":0.6,"t":2.94,"v":31},{"e":0.6,"t":3.0,"v":32.2},{"e":0.6,"t":3.05,"v":32.8},{"e":0.6,"t":3.1,"v":32.6},{"e":0.6,"t":3.16,"v":31.5},{"e":0.6,"t":3.22,"v":29.6},{"e":0.6,"t":3.27,"v":26},{"e":0.6,"t":3.31,"v":21.3},{"e":0.6,"t":3.38,"v":10.5},{"e":0.6,"t":3.44,"v":2},{"e":0.6,"t":3.5,"v":0.2},{"e":0.6,"t":3.58,"v":-0.5},{"e":0.6,"t":3.62,"v":-0.9},{"e":0.6,"t":3.68,"v":0},{"e":0.6,"t":3.9,"v":0.2},{"e":0.6,"t":4.3,"v":0},{"e":0.6,"t":5,"v":0.3},{"e":0.6,"t":6,"v":0.2},{"e":0.6,"t":7,"v":0.3},{"e":0.6,"t":8,"v":0.4},
{"e":0.5,"t":0,"v":0},{"e":0.5,"t":2.45,"v":0},{"e":0.5,"t":2.48,"v":-0.8},{"e":0.5,"t":2.53,"v":0},{"e":0.5,"t":2.57,"v":1.5},{"e":0.5,"t":2.62,"v":8},{"e":0.5,"t":2.67,"v":13},{"e":0.5,"t":2.72,"v":18.5},{"e":0.5,"t":2.79,"v":23.8},{"e":0.5,"t":2.84,"v":27},{"e":0.5,"t":2.89,"v":29.6},{"e":0.5,"t":2.94,"v":30.6},{"e":0.5,"t":2.98,"v":29.6},{"e":0.5,"t":3.03,"v":27},{"e":0.5,"t":3.08,"v":23},{"e":0.5,"t":3.12,"v":18.8},{"e":0.5,"t":3.16,"v":12},{"e":0.5,"t":3.2,"v":6.3},{"e":0.5,"t":3.25,"v":0.5},{"e":0.5,"t":3.31,"v":-0.6},{"e":0.5,"t":3.38,"v":-0.2},{"e":0.5,"t":3.5,"v":0},{"e":0.5,"t":3.7,"v":0.2},{"e":0.5,"t":4.0,"v":0},{"e":0.5,"t":4.4,"v":0.2},{"e":0.5,"t":5,"v":0},{"e":0.5,"t":5.5,"v":0.1},{"e":0.5,"t":6,"v":0},{"e":0.5,"t":6.5,"v":0.2},{"e":0.5,"t":7,"v":0},{"e":0.5,"t":7.5,"v":0.1},{"e":0.5,"t":8,"v":0}
],
"c": [
{"e":2.5,"t":0,"v":0},{"e":2.5,"t":2.5,"v":0},{"e":2.5,"t":2.55,"v":-0.7},{"e":2.5,"t":2.58,"v":0},{"e":2.5,"t":2.62,"v":5},{"e":2.5,"t":2.67,"v":15},{"e":2.5,"t":2.74,"v":23},{"e":2.5,"t":2.83,"v":29.5},{"e":2.5,"t":2.91,"v":33.5},{"e":2.5,"t":2.98,"v":35.5},{"e":2.5,"t":3.05,"v":36.6},{"e":2.5,"t":3.1,"v":37.2},{"e":2.5,"t":3.2,"v":38.3},{"e":2.5,"t":3.3,"v":38.9},{"e":2.5,"t":3.5,"v":39.8},{"e":2.5,"t":3.7,"v":40.4},{"e":2.5,"t":3.9,"v":40.7},{"e":2.5,"t":4.2,"v":41},{"e":2.5,"t":4.5,"v":41.1},{"e":2.5,"t":4.8,"v":41},{"e":2.5,"t":5.1,"v":41.2},{"e":2.5,"t":5.4,"v":41.1},{"e":2.5,"t":5.7,"v":41},{"e":2.5,"t":6.0,"v":41.1},{"e":2.5,"t":6.3,"v":40.9},{"e":2.5,"t":6.45,"v":40.8},{"e":2.5,"t":6.58,"v":40.6},{"e":2.5,"t":6.7,"v":39},{"e":2.5,"t":6.83,"v":36.6},{"e":2.5,"t":6.9,"v":31},{"e":2.5,"t":6.94,"v":24},{"e":2.5,"t":7.01,"v":11.5},{"e":2.5,"t":7.1,"v":4},{"e":2.5,"t":7.2,"v":3},{"e":2.5,"t":7.3,"v":2.5},{"e":2.5,"t":7.4,"v":2.8},{"e":2.5,"t":7.55,"v":2},{"e":2.5,"t":7.7,"v":2.2},{"e":2.5,"t":7.85,"v":1.6},{"e":2.5,"t":8,"v":1.3},
{"e":2.2,"t":0,"v":0},{"e":2.2,"t":2.5,"v":0},{"e":2.2,"t":2.55,"v":-0.7},{"e":2.2,"t":2.58,"v":0},{"e":2.2,"t":2.62,"v":5},{"e":2.2,"t":2.67,"v":15},{"e":2.2,"t":2.74,"v":23},{"e":2.2,"t":2.83,"v":29.5},{"e":2.2,"t":2.91,"v":33.5},{"e":2.2,"t":2.98,"v":35.5},{"e":2.2,"t":3.05,"v":36.6},{"e":2.2,"t":3.1,"v":37.2},{"e":2.2,"t":3.2,"v":38.4},{"e":2.2,"t":3.3,"v":39},{"e":2.2,"t":3.5,"v":39.9},{"e":2.2,"t":3.7,"v":40.5},{"e":2.2,"t":3.9,"v":40.8},{"e":2.2,"t":4.15,"v":41},{"e":2.2,"t":4.4,"v":41.2},{"e":2.2,"t":4.65,"v":41.1},{"e":2.2,"t":4.9,"v":41.2},{"e":2.2,"t":5.2,"v":41},{"e":2.2,"t":5.5,"v":41.1},{"e":2.2,"t":5.8,"v":40.9},{"e":2.2,"t":6.1,"v":40.8},{"e":2.2,"t":6.3,"v":40.4},{"e":2.2,"t":6.4,"v":39.8},{"e":2.2,"t":6.47,"v":37.5},{"e":2.2,"t":6.52,"v":34.8},{"e":2.2,"t":6.61,"v":24},{"e":2.2,"t":6.67,"v":11.5},{"e":2.2,"t":6.76,"v":3.5},{"e":2.2,"t":6.85,"v":2.6},{"e":2.2,"t":6.95,"v":3},{"e":2.2,"t":7.1,"v":2.3},{"e":2.2,"t":7.4,"v":2},{"e":2.2,"t":7.7,"v":1.8},{"e":2.2,"t":8,"v":1.4},
{"e":2,"t":0,"v":0},{"e":2,"t":2.5,"v":0},{"e":2,"t":2.55,"v":-0.7},{"e":2,"t":2.58,"v":0},{"e":2,"t":2.62,"v":5},{"e":2,"t":2.67,"v":15},{"e":2,"t":2.74,"v":23},{"e":2,"t":2.83,"v":29.5},{"e":2,"t":2.91,"v":33.5},{"e":2,"t":2.98,"v":35.5},{"e":2,"t":3.05,"v":36.6},{"e":2,"t":3.1,"v":37.2},{"e":2,"t":3.2,"v":38.4},{"e":2,"t":3.3,"v":39},{"e":2,"t":3.5,"v":40},{"e":2,"t":3.7,"v":40.6},{"e":2,"t":3.9,"v":41},{"e":2,"t":4.1,"v":41.3},{"e":2,"t":4.35,"v":41.4},{"e":2,"t":4.6,"v":41.3},{"e":2,"t":4.85,"v":41.5},{"e":2,"t":5.1,"v":41.4},{"e":2,"t":5.35,"v":41.5},{"e":2,"t":5.6,"v":41.3},{"e":2,"t":5.85,"v":41.4},{"e":2,"t":6.05,"v":41.1},{"e":2,"t":6.2,"v":40.8},{"e":2,"t":6.28,"v":40.3},{"e":2,"t":6.36,"v":38},{"e":2,"t":6.43,"v":34.8},{"e":2,"t":6.52,"v":19.8},{"e":2,"t":6.58,"v":8},{"e":2,"t":6.67,"v":3},{"e":2,"t":6.75,"v":2.2},{"e":2,"t":6.85,"v":2.8},{"e":2,"t":7.0,"v":1.8},{"e":2,"t":7.3,"v":1.8},{"e":2,"t":7.7,"v":1.5},{"e":2,"t":8,"v":1.3},
{"e":1.8,"t":0,"v":0},{"e":1.8,"t":2.5,"v":0},{"e":1.8,"t":2.55,"v":-0.7},{"e":1.8,"t":2.58,"v":0},{"e":1.8,"t":2.62,"v":5},{"e":1.8,"t":2.67,"v":15},{"e":1.8,"t":2.74,"v":23},{"e":1.8,"t":2.83,"v":29.5},{"e":1.8,"t":2.91,"v":33.5},{"e":1.8,"t":2.98,"v":35.5},{"e":1.8,"t":3.05,"v":36.6},{"e":1.8,"t":3.1,"v":37.2},{"e":1.8,"t":3.2,"v":38.4},{"e":1.8,"t":3.3,"v":39},{"e":1.8,"t":3.5,"v":40},{"e":1.8,"t":3.7,"v":40.6},{"e":1.8,"t":3.9,"v":41},{"e":1.8,"t":4.1,"v":41.2},{"e":1.8,"t":4.3,"v":41.4},{"e":1.8,"t":4.5,"v":41.2},{"e":1.8,"t":4.7,"v":41.5},{"e":1.8,"t":4.9,"v":41.3},{"e":1.8,"t":5.1,"v":41.4},{"e":1.8,"t":5.3,"v":41.2},{"e":1.8,"t":5.5,"v":41.3},{"e":1.8,"t":5.7,"v":41},{"e":1.8,"t":5.85,"v":40.7},{"e":1.8,"t":5.97,"v":40.3},{"e":1.8,"t":6.05,"v":38.5},{"e":1.8,"t":6.12,"v":35.6},{"e":1.8,"t":6.21,"v":24},{"e":1.8,"t":6.28,"v":9.8},{"e":1.8,"t":6.37,"v":3},{"e":1.8,"t":6.45,"v":2.2},{"e":1.8,"t":6.55,"v":2.8},{"e":1.8,"t":6.65,"v":1.8},{"e":1.8,"t":6.9,"v":1.6},{"e":1.8,"t":7.4,"v":1.4},{"e":1.8,"t":8,"v":1.2},
{"e":1.6,"t":0,"v":0},{"e":1.6,"t":2.5,"v":0},{"e":1.6,"t":2.55,"v":-0.7},{"e":1.6,"t":2.58,"v":0},{"e":1.6,"t":2.62,"v":5},{"e":1.6,"t":2.67,"v":15},{"e":1.6,"t":2.74,"v":23},{"e":1.6,"t":2.83,"v":29.5},{"e":1.6,"t":2.91,"v":33.5},{"e":1.6,"t":2.98,"v":35.5},{"e":1.6,"t":3.05,"v":36.6},{"e":1.6,"t":3.1,"v":37.2},{"e":1.6,"t":3.2,"v":38.4},{"e":1.6,"t":3.3,"v":39},{"e":1.6,"t":3.45,"v":39.8},{"e":1.6,"t":3.6,"v":40.4},{"e":1.6,"t":3.8,"v":40.8},{"e":1.6,"t":4.0,"v":41.2},{"e":1.6,"t":4.14,"v":41.7},{"e":1.6,"t":4.3,"v":41.2},{"e":1.6,"t":4.5,"v":41.4},{"e":1.6,"t":4.7,"v":41.1},{"e":1.6,"t":4.9,"v":41.2},{"e":1.6,"t":5.1,"v":40.9},{"e":1.6,"t":5.3,"v":40.5},{"e":1.6,"t":5.42,"v":39.8},{"e":1.6,"t":5.5,"v":38.3},{"e":1.6,"t":5.57,"v":35.6},{"e":1.6,"t":5.66,"v":24},{"e":1.6,"t":5.75,"v":7.3},{"e":1.6,"t":5.84,"v":1.5},{"e":1.6,"t":5.92,"v":1},{"e":1.6,"t":6.1,"v":1.2},{"e":1.6,"t":6.5,"v":1},{"e":1.6,"t":7.2,"v":1.1},{"e":1.6,"t":8,"v":1},
{"e":1.4,"t":0,"v":0},{"e":1.4,"t":2.5,"v":0},{"e":1.4,"t":2.55,"v":-0.7},{"e":1.4,"t":2.58,"v":0},{"e":1.4,"t":2.62,"v":5},{"e":1.4,"t":2.67,"v":15},{"e":1.4,"t":2.74,"v":23},{"e":1.4,"t":2.83,"v":29.5},{"e":1.4,"t":2.91,"v":33.5},{"e":1.4,"t":2.98,"v":35.5},{"e":1.4,"t":3.05,"v":36.6},{"e":1.4,"t":3.1,"v":37.2},{"e":1.4,"t":3.2,"v":38.4},{"e":1.4,"t":3.3,"v":39},{"e":1.4,"t":3.45,"v":39.9},{"e":1.4,"t":3.6,"v":40.5},{"e":1.4,"t":3.75,"v":40.9},{"e":1.4,"t":3.88,"v":41.2},{"e":1.4,"t":3.96,"v":41.9},{"e":1.4,"t":4.05,"v":41.2},{"e":1.4,"t":4.15,"v":40.6},{"e":1.4,"t":4.3,"v":40.7},{"e":1.4,"t":4.5,"v":40.3},{"e":1.4,"t":4.74,"v":39.8},{"e":1.4,"t":4.9,"v":38.8},{"e":1.4,"t":5.05,"v":37.3},{"e":1.4,"t":5.12,"v":34},{"e":1.4,"t":5.18,"v":28},{"e":1.4,"t":5.27,"v":11.5},{"e":1.4,"t":5.37,"v":2.8},{"e":1.4,"t":5.45,"v":1.5},{"e":1.4,"t":5.52,"v":2.2},{"e":1.4,"t":5.6,"v":1.2},{"e":1.4,"t":5.9,"v":1},{"e":1.4,"t":6.6,"v":0.9},{"e":1.4,"t":7.3,"v":1},{"e":1.4,"t":8,"v":1},
{"e":1.2,"t":0,"v":0},{"e":1.2,"t":2.5,"v":0},{"e":1.2,"t":2.55,"v":-0.7},{"e":1.2,"t":2.58,"v":0},{"e":1.2,"t":2.62,"v":5},{"e":1.2,"t":2.67,"v":15},{"e":1.2,"t":2.74,"v":23},{"e":1.2,"t":2.83,"v":29.5},{"e":1.2,"t":2.91,"v":33.5},{"e":1.2,"t":2.98,"v":35.5},{"e":1.2,"t":3.05,"v":36.6},{"e":1.2,"t":3.1,"v":37.2},{"e":1.2,"t":3.2,"v":38.4},{"e":1.2,"t":3.3,"v":39},{"e":1.2,"t":3.45,"v":39.9},{"e":1.2,"t":3.6,"v":40.5},{"e":1.2,"t":3.77,"v":41.1},{"e":1.2,"t":3.9,"v":40.6},{"e":1.2,"t":4.05,"v":40.4},{"e":1.2,"t":4.27,"v":39.8},{"e":1.2,"t":4.42,"v":38.6},{"e":1.2,"t":4.56,"v":37.3},{"e":1.2,"t":4.65,"v":35},{"e":1.2,"t":4.72,"v":32.3},{"e":1.2,"t":4.82,"v":19.8},{"e":1.2,"t":4.87,"v":7.3},{"e":1.2,"t":4.93,"v":1},{"e":1.2,"t":5.0,"v":0.3},{"e":1.2,"t":5.1,"v":1},{"e":1.2,"t":5.3,"v":0.5},{"e":1.2,"t":5.8,"v":0.6},{"e":1.2,"t":6.6,"v":0.7},{"e":1.2,"t":7.4,"v":0.8},{"e":1.2,"t":8,"v":0.8},
{"e":1,"t":0,"v":0},{"e":1,"t":2.5,"v":0},{"e":1,"t":2.55,"v":-0.7},{"e":1,"t":2.58,"v":0},{"e":1,"t":2.62,"v":5},{"e":1,"t":2.67,"v":15},{"e":1,"t":2.74,"v":23},{"e":1,"t":2.83,"v":29.5},{"e":1,"t":2.91,"v":33.5},{"e":1,"t":2.98,"v":35.5},{"e":1,"t":3.05,"v":36.6},{"e":1,"t":3.1,"v":37.2},{"e":1,"t":3.2,"v":38.4},{"e":1,"t":3.3,"v":39},{"e":1,"t":3.4,"v":39.6},{"e":1,"t":3.5,"v":40.1},{"e":1,"t":3.59,"v":40.6},{"e":1,"t":3.7,"v":39.8},{"e":1,"t":3.82,"v":39.2},{"e":1,"t":3.96,"v":38.6},{"e":1,"t":4.08,"v":37},{"e":1,"t":4.2,"v":34.8},{"e":1,"t":4.27,"v":31.5},{"e":1,"t":4.32,"v":28},{"e":1,"t":4.38,"v":15.5},{"e":1,"t":4.45,"v":4.8},{"e":1,"t":4.51,"v":0.5},{"e":1,"t":4.58,"v":0},{"e":1,"t":4.8,"v":0.3},{"e":1,"t":5.5,"v":0.2},{"e":1,"t":6.5,"v":0.5},{"e":1,"t":7.5,"v":0.5},{"e":1,"t":8,"v":0.6},
{"e":0.9,"t":0,"v":0},{"e":0.9,"t":2.5,"v":0},{"e":0.9,"t":2.55,"v":-0.7},{"e":0.9,"t":2.58,"v":0},{"e":0.9,"t":2.62,"v":5},{"e":0.9,"t":2.67,"v":15},{"e":0.9,"t":2.74,"v":23},{"e":0.9,"t":2.83,"v":29.5},{"e":0.9,"t":2.91,"v":33.5},{"e":0.9,"t":2.98,"v":35.5},{"e":0.9,"t":3.05,"v":36.6},{"e":0.9,"t":3.1,"v":37.2},{"e":0.9,"t":3.2,"v":38.4},{"e":0.9,"t":3.3,"v":39},{"e":0.9,"t":3.4,"v":39.4},{"e":0.9,"t":3.53,"v":39.8},{"e":0.9,"t":3.62,"v":38.8},{"e":0.9,"t":3.71,"v":37.8},{"e":0.9,"t":3.84,"v":36.5},{"e":0.9,"t":3.96,"v":35.6},{"e":0.9,"t":4.03,"v":32.5},{"e":0.9,"t":4.08,"v":28},{"e":0.9,"t":4.14,"v":15.5},{"e":0.9,"t":4.2,"v":4.8},{"e":0.9,"t":4.26,"v":0.5},{"e":0.9,"t":4.33,"v":0},{"e":0.9,"t":4.6,"v":0.3},{"e":0.9,"t":5.3,"v":0.2},{"e":0.9,"t":6.3,"v":0.4},{"e":0.9,"t":7.3,"v":0.5},{"e":0.9,"t":8,"v":0.5},
{"e":0.8,"t":0,"v":0},{"e":0.8,"t":2.5,"v":0},{"e":0.8,"t":2.55,"v":-0.7},{"e":0.8,"t":2.58,"v":0},{"e":0.8,"t":2.62,"v":5},{"e":0.8,"t":2.67,"v":15},{"e":0.8,"t":2.74,"v":23},{"e":0.8,"t":2.83,"v":29.5},{"e":0.8,"t":2.91,"v":33.5},{"e":0.8,"t":2.98,"v":35.5},{"e":0.8,"t":3.05,"v":36.6},{"e":0.8,"t":3.1,"v":37.2},{"e":0.8,"t":3.2,"v":38.4},{"e":0.8,"t":3.3,"v":39},{"e":0.8,"t":3.41,"v":39.3},{"e":0.8,"t":3.47,"v":38.2},{"e":0.8,"t":3.53,"v":37.3},{"e":0.8,"t":3.62,"v":36},{"e":0.8,"t":3.71,"v":34.8},{"e":0.8,"t":3.77,"v":31.5},{"e":0.8,"t":3.81,"v":28},{"e":0.8,"t":3.87,"v":15.5},{"e":0.8,"t":3.92,"v":4.8},{"e":0.8,"t":3.99,"v":0.5},{"e":0.8,"t":4.06,"v":-0.2},{"e":0.8,"t":4.3,"v":0.3},{"e":0.8,"t":5,"v":0.1},{"e":0.8,"t":6,"v":0.4},{"e":0.8,"t":7,"v":0.4},{"e":0.8,"t":8,"v":0.5},
{"e":0.7,"t":0,"v":0},{"e":0.7,"t":2.5,"v":0},{"e":0.7,"t":2.55,"v":-0.7},{"e":0.7,"t":2.58,"v":0},{"e":0.7,"t":2.62,"v":5},{"e":0.7,"t":2.67,"v":15},{"e":0.7,"t":2.74,"v":23},{"e":0.7,"t":2.83,"v":29.5},{"e":0.7,"t":2.91,"v":33.5},{"e":0.7,"t":2.98,"v":35.5},{"e":0.7,"t":3.05,"v":36.6},{"e":0.7,"t":3.1,"v":37.2},{"e":0.7,"t":3.16,"v":38.2},{"e":0.7,"t":3.22,"v":38.6},{"e":0.7,"t":3.3,"v":37.5},{"e":0.7,"t":3.37,"v":35.6},{"e":0.7,"t":3.44,"v":32},{"e":0.7,"t":3.5,"v":28},{"e":0.7,"t":3.55,"v":17.3},{"e":0.7,"t":3.62,"v":5.5},{"e":0.7,"t":3.68,"v":0.5},{"e":0.7,"t":3.75,"v":-0.2},{"e":0.7,"t":4.0,"v":0.2},{"e":0.7,"t":4.5,"v":0},{"e":0.7,"t":5.2,"v":0.3},{"e":0.7,"t":6.2,"v":0.3},{"e":0.7,"t":7.2,"v":0.4},{"e":0.7,"t":8,"v":0.5},
{"e":0.6,"t":0,"v":0},{"e":0.6,"t":2.5,"v":0},{"e":0.6,"t":2.55,"v":-0.7},{"e":0.6,"t":2.58,"v":0},{"e":0.6,"t":2.62,"v":5},{"e":0.6,"t":2.67,"v":15},{"e":0.6,"t":2.74,"v":23},{"e":0.6,"t":2.83,"v":29.5},{"e":0.6,"t":2.91,"v":33.5},{"e":0.6,"t":2.98,"v":35.5},{"e":0.6,"t":3.05,"v":36.6},{"e":0.6,"t":3.1,"v":37.3},{"e":0.6,"t":3.16,"v":36.8},{"e":0.6,"t":3.22,"v":35.6},{"e":0.6,"t":3.28,"v":32},{"e":0.6,"t":3.32,"v":28},{"e":0.6,"t":3.37,"v":15.5},{"e":0.6,"t":3.44,"v":4.8},{"e":0.6,"t":3.5,"v":0.5},{"e":0.6,"t":3.56,"v":-0.3},{"e":0.6,"t":3.62,"v":-1},{"e":0.6,"t":3.7,"v":0},{"e":0.6,"t":3.9,"v":0.2},{"e":0.6,"t":4.3,"v":0},{"e":0.6,"t":5,"v":0.3},{"e":0.6,"t":6,"v":0.2},{"e":0.6,"t":7,"v":0.3},{"e":0.6,"t":8,"v":0.4},
{"e":0.5,"t":0,"v":0},{"e":0.5,"t":2.5,"v":0},{"e":0.5,"t":2.55,"v":-0.7},{"e":0.5,"t":2.58,"v":0},{"e":0.5,"t":2.62,"v":6},{"e":0.5,"t":2.67,"v":17.3},{"e":0.5,"t":2.74,"v":24.8},{"e":0.5,"t":2.83,"v":29.8},{"e":0.5,"t":2.89,"v":33},{"e":0.5,"t":2.95,"v":35.3},{"e":0.5,"t":3.0,"v":34.6},{"e":0.5,"t":3.04,"v":33},{"e":0.5,"t":3.1,"v":28.1},{"e":0.5,"t":3.17,"v":18},{"e":0.5,"t":3.21,"v":7.3},{"e":0.5,"t":3.26,"v":1},{"e":0.5,"t":3.32,"v":-0.3},{"e":0.5,"t":3.4,"v":-0.6},{"e":0.5,"t":3.5,"v":-0.2},{"e":0.5,"t":3.7,"v":0.1},{"e":0.5,"t":4.0,"v":-0.1},{"e":0.5,"t":4.4,"v":0.2},{"e":0.5,"t":5,"v":0},{"e":0.5,"t":5.5,"v":0.1},{"e":0.5,"t":6,"v":0},{"e":0.5,"t":6.5,"v":0.2},{"e":0.5,"t":7,"v":0},{"e":0.5,"t":7.5,"v":0.1},{"e":0.5,"t":8,"v":0}
]
},
"resolve": {"scale": {"color": "independent", "x": "independent", "y": "independent"}},
"spacing": 46,
"vconcat": [
{
"hconcat": [
{
"width": 432, "height": 290,
"title": {"text": "(a)", "orient": "bottom", "dx": 21, "offset": 10, "frame": "group"},
"layer": [
{"data": {"name": "a"}, "mark": {"type": "line", "strokeWidth": 2},
 "encoding": {
  "x": {"field": "t", "type": "quantitative", "scale": {"domain": [0, 8], "nice": false}, "axis": {"title": "Time [ms]", "values": [0,0.5,1,1.5,2,2.5,3,3.5,4,4.5,5,5.5,6,6.5,7,7.5,8], "labelExpr": "datum.value % 1 === 0 ? datum.label : ''", "tickSize": {"condition": {"test": "datum.value % 1 !== 0", "value": 4}, "value": 7}, "labelOverlap": false, "labelFlush": false}},
  "y": {"field": "v", "type": "quantitative", "scale": {"domain": [-2.5, 70], "nice": false, "zero": false}, "axis": {"title": "ṁf [g/s]", "values": [0,5,10,15,20,25,30,35,40,45,50,55,60,65,70], "labelExpr": "datum.value % 10 === 0 ? datum.label : ''", "tickSize": {"condition": {"test": "datum.value % 10 !== 0", "value": 4}, "value": 7}, "labelOverlap": false}},
  "color": {"field": "e", "type": "nominal", "scale": {"domain": [0.5,0.6,0.7,0.8,0.9,1,1.2,1.4,1.6,1.8,2,2.2,2.5], "range": ["#0000ff","#ff4d94","#33cc33","#ff0000","#9922cc","#6699ff","#6e9e9e","#00662e","#cccc22","#cc6633","#ff6633","#cc3399","#9966ff"]},
   "legend": {"orient": "none", "legendX": 14, "legendY": 16, "title": "Prail 80", "titleFont": "Liberation Sans", "titleFontSize": 11.5, "titleFontWeight": "normal", "titleColor": "#333333", "titleAnchor": "middle", "titlePadding": 1, "labelFont": "Liberation Sans", "labelFontSize": 13, "labelColor": "black", "labelOffset": 6, "labelExpr": "'ET = ' + datum.label + ' ms'", "symbolType": "stroke", "symbolStrokeWidth": 2.5, "symbolSize": 300, "rowPadding": 1, "padding": 0}}
 }},
{"data": {"values": [{"t": 3.06, "v": 29.5, "v2": 39.4}, {"t": 6.96, "v": 30, "v2": 39.4}]}, "mark": {"type": "rule", "strokeDash": [6, 4], "strokeWidth": 1.3, "color": "#222222"}, "encoding": {"x": {"field": "t", "type": "quantitative"}, "y": {"field": "v", "type": "quantitative"}, "y2": {"field": "v2"}}},
{"data": {"values": [{"t": 3.14, "t2": 3.97, "v": 37.9}, {"t": 6.16, "t2": 6.94, "v": 37.9}]}, "mark": {"type": "rule", "strokeWidth": 1.3, "color": "black"}, "encoding": {"x": {"field": "t", "type": "quantitative"}, "x2": {"field": "t2"}, "y": {"field": "v", "type": "quantitative"}}},
{"data": {"values": [{"t": 3.14, "v": 37.9}]}, "mark": {"type": "point", "shape": "M1,-0.5L0,0L1,0.5", "size": 150, "filled": false, "stroke": "black", "strokeWidth": 1.5, "opacity": 1}, "encoding": {"x": {"field": "t", "type": "quantitative"}, "y": {"field": "v", "type": "quantitative"}}},
{"data": {"values": [{"t": 6.94, "v": 37.9}]}, "mark": {"type": "point", "shape": "M-1,-0.5L0,0L-1,0.5", "size": 150, "filled": false, "stroke": "black", "strokeWidth": 1.5, "opacity": 1}, "encoding": {"x": {"field": "t", "type": "quantitative"}, "y": {"field": "v", "type": "quantitative"}}},
{"data": {"values": [{"t": 5.03, "v": 37.9, "s": "Zona estacionaria"}]}, "mark": {"type": "text", "fontSize": 14, "align": "center", "baseline": "middle"}, "encoding": {"x": {"field": "t", "type": "quantitative"}, "y": {"field": "v", "type": "quantitative"}, "text": {"field": "s"}}},
{"data": {"values": [{"t": 7.68, "v": 62.7, "s": "Inyección Simple"}]}, "mark": {"type": "text", "fontSize": 19, "fontWeight": "bold", "align": "right", "baseline": "alphabetic"}, "encoding": {"x": {"field": "t", "type": "quantitative"}, "y": {"field": "v", "type": "quantitative"}, "text": {"field": "s"}}},
{"data": {"values": [{"t": 5.31, "v": 57.7, "s": "P"}, {"t": 5.96, "v": 57.7, "s": "= 80 MPa"}, {"t": 5.31, "v": 52.0, "s": "P"}, {"t": 6.05, "v": 52.0, "s": "="}, {"t": 6.6, "v": 52.0, "s": "5 MPa"}]}, "mark": {"type": "text", "fontSize": 17, "align": "left", "baseline": "alphabetic"}, "encoding": {"x": {"field": "t", "type": "quantitative"}, "y": {"field": "v", "type": "quantitative"}, "text": {"field": "s"}}},
{"data": {"values": [{"t": 5.54, "v": 57.1, "s": "rail"}, {"t": 5.54, "v": 51.4, "s": "back"}]}, "mark": {"type": "text", "fontSize": 12, "align": "left", "baseline": "alphabetic"}, "encoding": {"x": {"field": "t", "type": "quantitative"}, "y": {"field": "v", "type": "quantitative"}, "text": {"field": "s"}}}
]
},
{
"width": 435, "height": 290,
"title": {"text": "(b)", "orient": "bottom", "dx": 0, "offset": 10, "frame": "group"},
"layer": [
{"data": {"name": "b"}, "mark": {"type": "line", "strokeWidth": 2},
 "encoding": {
  "x": {"field": "t", "type": "quantitative", "scale": {"domain": [0, 8], "nice": false}, "axis": {"title": "Tiempo [ms]", "values": [0,0.5,1,1.5,2,2.5,3,3.5,4,4.5,5,5.5,6,6.5,7,7.5,8], "labelExpr": "datum.value % 1 === 0 ? datum.label : ''", "tickSize": {"condition": {"test": "datum.value % 1 !== 0", "value": 4}, "value": 7}, "labelOverlap": false, "labelFlush": false}},
  "y": {"field": "v", "type": "quantitative", "scale": {"domain": [-2.5, 70], "nice": false, "zero": false}, "axis": {"title": "ṁf [g/s]", "values": [0,5,10,15,20,25,30,35,40,45,50,55,60,65,70], "labelExpr": "datum.value % 10 === 0 ? datum.label : ''", "tickSize": {"condition": {"test": "datum.value % 10 !== 0", "value": 4}, "value": 7}, "labelOverlap": false}},
  "color": {"field": "e", "type": "nominal", "scale": {"domain": [0.5,0.6,0.7,0.8,0.9,1,1.2,1.4,1.6,1.8,2,2.2,2.5], "range": ["#0000ff","#ff4d94","#33cc33","#ff0000","#9922cc","#6699ff","#6e9e9e","#00662e","#cccc22","#cc6633","#ff6633","#cc3399","#9966ff"]}, "legend": null}
 }},
{"data": {"values": [{"t": 3.13, "v": 36.8, "v2": 44.6}, {"t": 6.78, "v": 35.8, "v2": 44.6}]}, "mark": {"type": "rule", "strokeDash": [6, 4], "strokeWidth": 1.3, "color": "#222222"}, "encoding": {"x": {"field": "t", "type": "quantitative"}, "y": {"field": "v", "type": "quantitative"}, "y2": {"field": "v2"}}},
{"data": {"values": [{"t": 3.2, "t2": 3.84, "v": 43.6}, {"t": 5.97, "t2": 6.78, "v": 43.6}]}, "mark": {"type": "rule", "strokeWidth": 1.3, "color": "black"}, "encoding": {"x": {"field": "t", "type": "quantitative"}, "x2": {"field": "t2"}, "y": {"field": "v", "type": "quantitative"}}},
{"data": {"values": [{"t": 3.2, "v": 43.6}]}, "mark": {"type": "point", "shape": "M1,-0.5L0,0L1,0.5", "size": 150, "filled": false, "stroke": "black", "strokeWidth": 1.5, "opacity": 1}, "encoding": {"x": {"field": "t", "type": "quantitative"}, "y": {"field": "v", "type": "quantitative"}}},
{"data": {"values": [{"t": 6.78, "v": 43.6}]}, "mark": {"type": "point", "shape": "M-1,-0.5L0,0L-1,0.5", "size": 150, "filled": false, "stroke": "black", "strokeWidth": 1.5, "opacity": 1}, "encoding": {"x": {"field": "t", "type": "quantitative"}, "y": {"field": "v", "type": "quantitative"}}},
{"data": {"values": [{"t": 4.91, "v": 43.6, "s": "Zona estacionaria"}]}, "mark": {"type": "text", "fontSize": 14, "align": "center", "baseline": "middle"}, "encoding": {"x": {"field": "t", "type": "quantitative"}, "y": {"field": "v", "type": "quantitative"}, "text": {"field": "s"}}},
{"data": {"values": [{"t": 7.85, "v": 64.8, "s": "Inyección Simple"}]}, "mark": {"type": "text", "fontSize": 19, "fontWeight": "bold", "align": "right", "baseline": "alphabetic"}, "encoding": {"x": {"field": "t", "type": "quantitative"}, "y": {"field": "v", "type": "quantitative"}, "text": {"field": "s"}}},
{"data": {"values": [{"t": 5.5, "v": 59.4, "s": "P"}, {"t": 6.03, "v": 59.4, "s": "= 100 MPa"}, {"t": 5.5, "v": 55.2, "s": "P"}, {"t": 6.18, "v": 55.2, "s": "="}, {"t": 6.66, "v": 55.2, "s": "5 MPa"}]}, "mark": {"type": "text", "fontSize": 17, "align": "left", "baseline": "alphabetic"}, "encoding": {"x": {"field": "t", "type": "quantitative"}, "y": {"field": "v", "type": "quantitative"}, "text": {"field": "s"}}},
{"data": {"values": [{"t": 5.72, "v": 58.9, "s": "rail"}, {"t": 5.72, "v": 54.5, "s": "back"}]}, "mark": {"type": "text", "fontSize": 11, "align": "left", "baseline": "alphabetic"}, "encoding": {"x": {"field": "t", "type": "quantitative"}, "y": {"field": "v", "type": "quantitative"}, "text": {"field": "s"}}}
]
}
],
"spacing": 116,
"resolve": {"scale": {"color": "independent", "x": "independent", "y": "independent"}}
},
{
"hconcat": [
{"width": 261, "height": 10, "data": {"values": [{"k": 1}]}, "mark": {"type": "point", "opacity": 0}, "view": {"stroke": null}},
{
"width": 437, "height": 290,
"title": {"text": "(c)", "orient": "bottom", "dx": 8, "offset": 10, "frame": "group"},
"layer": [
{"data": {"name": "c"}, "mark": {"type": "line", "strokeWidth": 2},
 "encoding": {
  "x": {"field": "t", "type": "quantitative", "scale": {"domain": [0, 8], "nice": false}, "axis": {"title": "Tiempo [ms]", "values": [0,0.5,1,1.5,2,2.5,3,3.5,4,4.5,5,5.5,6,6.5,7,7.5,8], "labelExpr": "datum.value % 1 === 0 ? datum.label : ''", "tickSize": {"condition": {"test": "datum.value % 1 !== 0", "value": 4}, "value": 7}, "labelOverlap": false, "labelFlush": false}},
  "y": {"field": "v", "type": "quantitative", "scale": {"domain": [-2.5, 70], "nice": false, "zero": false}, "axis": {"title": "ṁf [g/s]", "values": [0,5,10,15,20,25,30,35,40,45,50,55,60,65,70], "labelExpr": "datum.value % 10 === 0 ? datum.label : ''", "tickSize": {"condition": {"test": "datum.value % 10 !== 0", "value": 4}, "value": 7}, "labelOverlap": false}},
  "color": {"field": "e", "type": "nominal", "scale": {"domain": [0.5,0.6,0.7,0.8,0.9,1,1.2,1.4,1.6,1.8,2,2.2,2.5], "range": ["#0000ff","#ff4d94","#33cc33","#ff0000","#9922cc","#6699ff","#6e9e9e","#00662e","#cccc22","#cc6633","#ff6633","#cc3399","#9966ff"]}, "legend": null}
 }},
{"data": {"values": [{"t": 3.22, "v": 39.9, "v2": 46.6}, {"t": 6.57, "v": 39.9, "v2": 46.6}]}, "mark": {"type": "rule", "strokeDash": [6, 4], "strokeWidth": 1.3, "color": "#222222"}, "encoding": {"x": {"field": "t", "type": "quantitative"}, "y": {"field": "v", "type": "quantitative"}, "y2": {"field": "v2"}}},
{"data": {"values": [{"t": 3.28, "t2": 3.77, "v": 44.9}, {"t": 5.92, "t2": 6.56, "v": 44.9}]}, "mark": {"type": "rule", "strokeWidth": 1.3, "color": "black"}, "encoding": {"x": {"field": "t", "type": "quantitative"}, "x2": {"field": "t2"}, "y": {"field": "v", "type": "quantitative"}}},
{"data": {"values": [{"t": 3.28, "v": 44.9}]}, "mark": {"type": "point", "shape": "M1,-0.5L0,0L1,0.5", "size": 150, "filled": false, "stroke": "black", "strokeWidth": 1.5, "opacity": 1}, "encoding": {"x": {"field": "t", "type": "quantitative"}, "y": {"field": "v", "type": "quantitative"}}},
{"data": {"values": [{"t": 6.56, "v": 44.9}]}, "mark": {"type": "point", "shape": "M-1,-0.5L0,0L-1,0.5", "size": 150, "filled": false, "stroke": "black", "strokeWidth": 1.5, "opacity": 1}, "encoding": {"x": {"field": "t", "type": "quantitative"}, "y": {"field": "v", "type": "quantitative"}}},
{"data": {"values": [{"t": 4.86, "v": 44.9, "s": "Zona estacionaria"}]}, "mark": {"type": "text", "fontSize": 14, "align": "center", "baseline": "middle"}, "encoding": {"x": {"field": "t", "type": "quantitative"}, "y": {"field": "v", "type": "quantitative"}, "text": {"field": "s"}}},
{"data": {"values": [{"t": 7.86, "v": 63.5, "s": "Inyección Simple"}]}, "mark": {"type": "text", "fontSize": 19, "fontWeight": "bold", "align": "right", "baseline": "alphabetic"}, "encoding": {"x": {"field": "t", "type": "quantitative"}, "y": {"field": "v", "type": "quantitative"}, "text": {"field": "s"}}},
{"data": {"values": [{"t": 5.55, "v": 58.3, "s": "P"}, {"t": 6.07, "v": 58.3, "s": "= 120 MPa"}, {"t": 5.55, "v": 54.1, "s": "P"}, {"t": 6.21, "v": 54.1, "s": "="}, {"t": 6.68, "v": 54.1, "s": "5 MPa"}]}, "mark": {"type": "text", "fontSize": 17, "align": "left", "baseline": "alphabetic"}, "encoding": {"x": {"field": "t", "type": "quantitative"}, "y": {"field": "v", "type": "quantitative"}, "text": {"field": "s"}}},
{"data": {"values": [{"t": 5.76, "v": 57.7, "s": "rail"}, {"t": 5.76, "v": 53.4, "s": "back"}]}, "mark": {"type": "text", "fontSize": 11, "align": "left", "baseline": "alphabetic"}, "encoding": {"x": {"field": "t", "type": "quantitative"}, "y": {"field": "v", "type": "quantitative"}, "text": {"field": "s"}}}
]
}
],
"spacing": 0,
"resolve": {"scale": {"color": "independent", "x": "independent", "y": "independent"}}
}
]
}
